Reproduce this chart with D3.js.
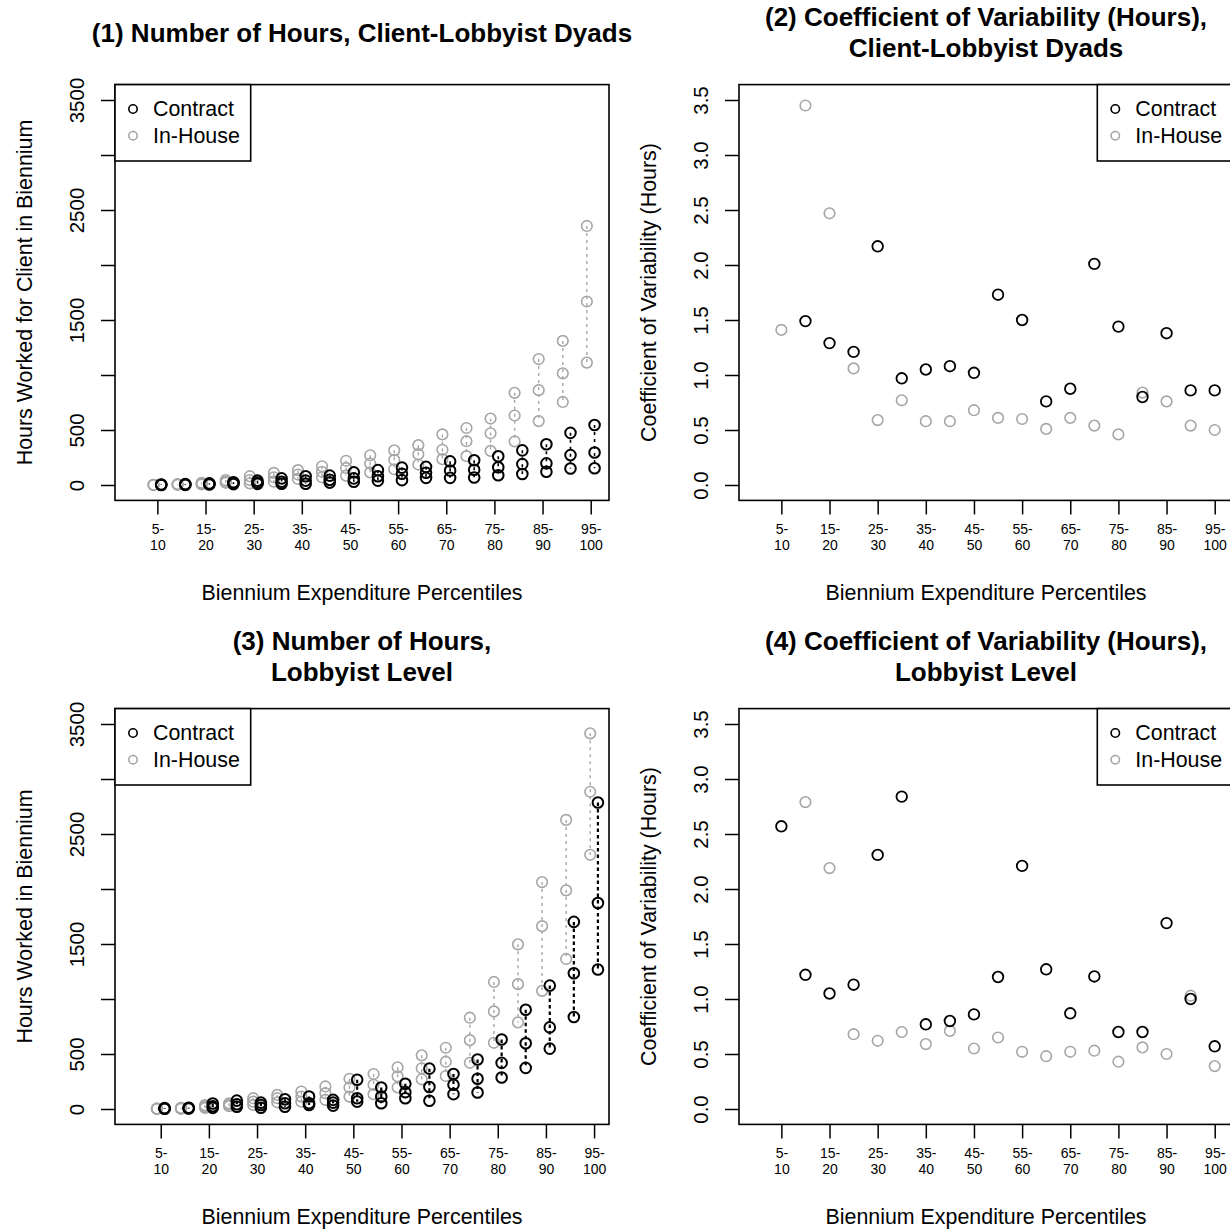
<!DOCTYPE html>
<html lang="en">
<head>
<meta charset="UTF-8">
<title>Lobbyist hours by expenditure percentile</title>
<script src="https://cdn.jsdelivr.net/npm/d3@7"></script>
<style>
  body { margin: 0; background: #fff; }
  svg text { font-family: "Liberation Sans", Arial, Helvetica, sans-serif; fill: #000; }
</style>
</head>
<body>
<div id="viz"></div>
<script>
// percentile groups (lower bound), one per 5-point bin
var groupX = [5, 10, 15, 20, 25, 30, 35, 40, 45, 50, 55, 60, 65, 70, 75, 80, 85, 90, 95];
var tickX = [5, 15, 25, 35, 45, 55, 65, 75, 85, 95];
var tickLabels = [["5-", "10"], ["15-", "20"], ["25-", "30"], ["35-", "40"], ["45-", "50"],
                  ["55-", "60"], ["65-", "70"], ["75-", "80"], ["85-", "90"], ["95-", "100"]];

// (1) hours per client-lobbyist dyad: [high, mid, low] per group
var dyadContract = [[5, 2, 0], [8, 4, 1], [15, 10, 5], [25, 18, 8], [40, 22, 10], [60, 30, 12],
  [80, 40, 12], [85, 47, 22], [115, 60, 30], [135, 80, 40], [158, 102, 44], [165, 112, 65],
  [215, 132, 65], [225, 138, 68], [262, 162, 88], [315, 190, 100], [370, 197, 120],
  [474, 272, 150], [545, 295, 152]];
var dyadInHouse = [[2, 1, 0], [8, 4, 2], [20, 12, 5], [45, 30, 20], [80, 45, 15], [110, 70, 30],
  [135, 95, 55], [170, 120, 70], [220, 155, 85], [270, 195, 115], [315, 228, 143], [362, 280, 186],
  [460, 320, 235], [518, 398, 262], [604, 470, 310], [838, 632, 396], [1145, 862, 581],
  [1310, 1015, 755], [2355, 1668, 1113]];

// (3) hours at lobbyist level: [high, mid, low] per group
var lobContract = [[8, 5, 2], [12, 8, 4], [50, 25, 10], [76, 43, 21], [58, 37, 12], [89, 52, 21],
  [113, 52, 37], [83, 58, 31], [266, 98, 67], [196, 113, 52], [229, 153, 98], [367, 200, 75],
  [318, 220, 135], [450, 275, 150], [632, 419, 287], [902, 598, 374], [1122, 742, 549],
  [1701, 1234, 836], [2787, 1873, 1268]];
var lobInHouse = [[5, 2, 0], [10, 5, 2], [35, 20, 10], [52, 37, 25], [98, 67, 37], [128, 98, 61],
  [159, 113, 67], [205, 144, 83], [275, 196, 113], [318, 220, 135], [379, 297, 196], [488, 370, 270],
  [557, 430, 300], [830, 626, 420], [1155, 887, 602], [1497, 1135, 787], [2063, 1662, 1074],
  [2628, 1988, 1364], [3415, 2884, 2311]];

// (2) and (4) coefficient of variability
var cvDyadContract = [null, 1.49, 1.29, 1.21, 2.17, 0.97, 1.05, 1.08, 1.02, 1.73, 1.50, 0.76,
  0.875, 2.01, 1.44, 0.80, 1.38, 0.86, 0.86];
var cvDyadInHouse = [1.41, 3.45, 2.47, 1.06, 0.59, 0.77, 0.58, 0.58, 0.68, 0.61, 0.60, 0.51,
  0.61, 0.54, 0.46, 0.84, 0.76, 0.54, 0.50];
var cvLobContract = [2.57, 1.22, 1.05, 1.13, 2.31, 2.84, 0.77, 0.80, 0.86, 1.20, 2.21, 1.27,
  0.87, 1.205, 0.70, 0.70, 1.69, 1.00, 0.57];
var cvLobInHouse = [null, 2.79, 2.19, 0.68, 0.62, 0.70, 0.59, 0.71, 0.55, 0.65, 0.52, 0.48,
  0.52, 0.53, 0.43, 0.56, 0.50, 1.03, 0.39];

var hourTicks = [0, 500, 1000, 1500, 2000, 2500, 3000, 3500];
var cvTicks = [0, 0.5, 1, 1.5, 2, 2.5, 3, 3.5];

var width = 1230, height = 1230;
var pitch = 624;          // distance between panels
var bw = 494, bh = 415.8; // plot box size
var gray = "#a6a6a6";

var svg = d3.select("#viz").append("svg")
  .attr("width", width)
  .attr("height", height);

function drawPanel(opt) {
  var left = 115 + opt.col * pitch,
      top = 84.6 + opt.row * pitch;

  var x = d3.scaleLinear().domain(opt.xdom).range([0, bw]);
  var y = d3.scaleLinear().domain(opt.ydom).range([bh, 0]);

  var g = svg.append("g").attr("transform", "translate(" + left + "," + top + ")");

  // title, one or two lines
  var title = svg.append("text")
    .attr("x", left + bw / 2)
    .attr("text-anchor", "middle")
    .style("font-weight", "bold")
    .style("font-size", "26px");
  var baseY = opt.row * pitch + (opt.title.length == 1 ? 42 : 26);
  opt.title.forEach(function(t, i) {
    title.append("tspan").attr("x", left + bw / 2).attr("y", baseY + i * 31).text(t);
  });

  // x axis
  var xa = g.append("g")
    .attr("transform", "translate(0," + bh + ")")
    .call(d3.axisBottom(x).tickValues(tickX).tickSize(14).tickFormat(""));
  xa.select(".domain").remove();
  xa.selectAll(".tick line").attr("stroke", "#000").attr("stroke-width", 1.5);
  xa.selectAll(".tick text")
    .attr("dy", null)
    .style("font-size", "14px")
    .style("font-family", "'Liberation Sans Narrow', 'Liberation Sans', Arial, sans-serif")
    .each(function(d, i) {
      var t = d3.select(this);
      t.append("tspan").attr("x", 0).attr("y", 34).text(tickLabels[i][0]);
      t.append("tspan").attr("x", 0).attr("y", 50).text(tickLabels[i][1]);
    });

  // y axis with rotated labels (some dropped, as in the original)
  var ya = g.append("g")
    .call(d3.axisLeft(y).tickValues(opt.yticks).tickSize(14).tickFormat(opt.yfmt));
  ya.select(".domain").remove();
  ya.selectAll(".tick line").attr("stroke", "#000").attr("stroke-width", 1.5);
  ya.selectAll(".tick text")
    .attr("x", null).attr("dy", null)
    .attr("text-anchor", "middle")
    .attr("transform", "translate(-31.5,0) rotate(-90)")
    .style("font-size", "20.5px");

  // axis titles
  g.append("text")
    .attr("x", bw / 2).attr("y", bh + 99.5)
    .attr("text-anchor", "middle")
    .style("font-size", "21.4px")
    .text("Biennium Expenditure Percentiles");
  g.append("text")
    .attr("transform", "translate(-83," + (bh / 2) + ") rotate(-90)")
    .attr("text-anchor", "middle")
    .style("font-size", "21.4px")
    .text(opt.ylab);

  // series: in-house first, contract on top
  var series = [
    { data: opt.inHouse, color: gray, dx: opt.dodge ? -0.8 : 0, lw: 1.6, dash: "3,4", dlw: 1.4 },
    { data: opt.contract, color: "#000", dx: opt.dodge ? 0.8 : 0, lw: opt.range ? 2 : 1.8,
      dash: opt.heavy ? "3.5,3" : "3,4", dlw: opt.heavy ? 2.2 : 1.6 }
  ];

  series.forEach(function(s) {
    var pts = [];
    s.data.forEach(function(v, i) {
      if (v === null) return;
      var vals = Array.isArray(v) ? v : [v];
      if (vals.length > 1) {
        g.append("line")
          .attr("x1", x(groupX[i] + s.dx)).attr("x2", x(groupX[i] + s.dx))
          .attr("y1", y(d3.max(vals))).attr("y2", y(d3.min(vals)))
          .attr("stroke", s.color)
          .attr("stroke-width", s.dlw)
          .attr("stroke-dasharray", s.dash);
      }
      vals.forEach(function(val) { pts.push({ gx: groupX[i] + s.dx, v: val }); });
    });
    g.selectAll(null).data(pts).enter().append("circle")
      .attr("cx", function(d) { return x(d.gx); })
      .attr("cy", function(d) { return y(d.v); })
      .attr("r", 5.3)
      .attr("fill", "none")
      .attr("stroke", s.color)
      .attr("stroke-width", s.lw);
  });

  // plot box
  g.append("rect")
    .attr("width", bw).attr("height", bh)
    .attr("fill", "none").attr("stroke", "#000").attr("stroke-width", 1.6);

  // legend
  var lw = 135.7, lh = 76.4;
  var lg = g.append("g").attr("transform", "translate(" + (opt.legendRight ? bw - lw : 0) + ",0)");
  lg.append("rect").attr("width", lw).attr("height", lh)
    .attr("fill", "#fff").attr("stroke", "#000").attr("stroke-width", 1.6);
  [["Contract", "#000"], ["In-House", gray]].forEach(function(e, i) {
    var cy = 24.4 + i * 26.7;
    lg.append("circle").attr("cx", 18).attr("cy", cy).attr("r", 4.2)
      .attr("fill", "none").attr("stroke", e[1]).attr("stroke-width", 1.6);
    lg.append("text").attr("x", 38).attr("y", cy + 7.5)
      .style("font-size", "21.4px").text(e[0]);
  });
}

var hourFmt = function(d) { return (d == 1000 || d == 2000 || d == 3000) ? "" : d; };
var cvFmt = d3.format(".1f");

drawPanel({ row: 0, col: 0, title: ["(1) Number of Hours, Client-Lobbyist Dyads"],
  xdom: [-3.8, 98.8], ydom: [-140, 3640], yticks: hourTicks, yfmt: hourFmt,
  ylab: "Hours Worked for Client in Biennium",
  contract: dyadContract, inHouse: dyadInHouse, dodge: true, range: true, legendRight: false });

drawPanel({ row: 0, col: 1, title: ["(2) Coefficient of Variability (Hours),", "Client-Lobbyist Dyads"],
  xdom: [-3.8, 98.8], ydom: [-0.14, 3.64], yticks: cvTicks, yfmt: cvFmt,
  ylab: "Coefficient of Variability (Hours)",
  contract: cvDyadContract, inHouse: cvDyadInHouse, dodge: false, range: false, legendRight: true });

drawPanel({ row: 1, col: 0, title: ["(3) Number of Hours,", "Lobbyist Level"],
  xdom: [-4.5, 98.1], ydom: [-140, 3640], yticks: hourTicks, yfmt: hourFmt,
  ylab: "Hours Worked in Biennium",
  contract: lobContract, inHouse: lobInHouse, dodge: true, range: true, heavy: true, legendRight: false });

drawPanel({ row: 1, col: 1, title: ["(4) Coefficient of Variability (Hours),", "Lobbyist Level"],
  xdom: [-3.8, 98.8], ydom: [-0.14, 3.64], yticks: cvTicks, yfmt: cvFmt,
  ylab: "Coefficient of Variability (Hours)",
  contract: cvLobContract, inHouse: cvLobInHouse, dodge: false, range: false, legendRight: true });
</script>
</body>
</html>
